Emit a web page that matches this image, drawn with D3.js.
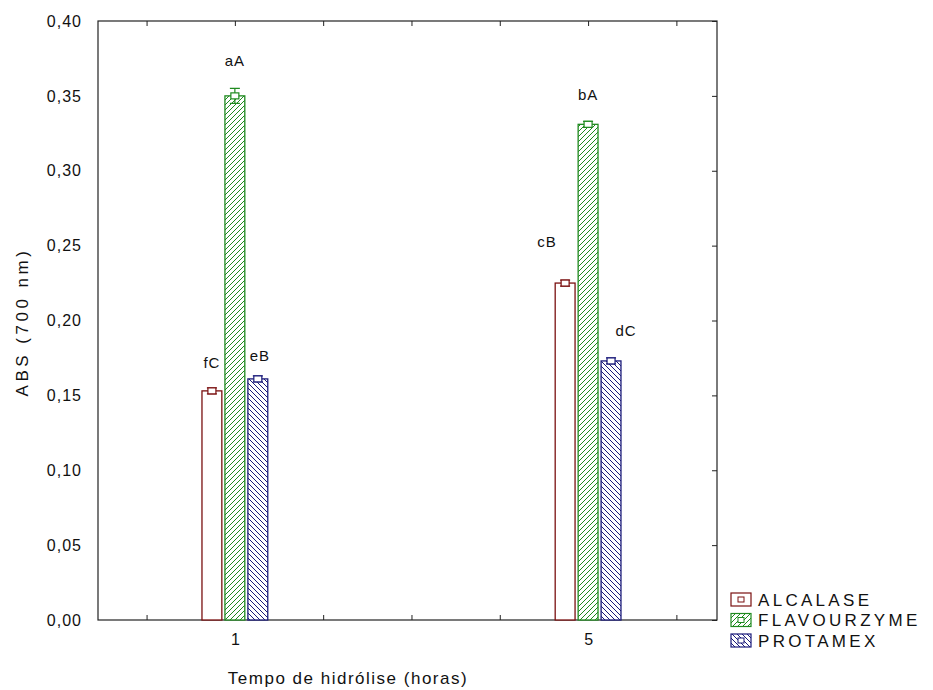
<!DOCTYPE html>
<html><head><meta charset="utf-8">
<script src="https://cdn.jsdelivr.net/npm/d3@7/dist/d3.min.js"></script>
<style>body{margin:0;background:#fff}svg{display:block}text{font-family:"Liberation Sans",Arial,sans-serif;fill:#111}</style>
</head><body>
<svg id="c" width="933" height="690"></svg>
<script>
const categories = [1, 5];
const seriesNames = ["ALCALASE", "FLAVOURZYME", "PROTAMEX"];
const alcalase = [0.153, 0.225];
const flavourzyme = [0.350, 0.331];
const protamex = [0.161, 0.173];
const alcalaseErr = [0.002, 0.002];
const flavourzymeErr = [0.005, 0.002];
const protamexErr = [0.002, 0.002];
const alcalaseLetters = ["fC", "cB"];
const flavourzymeLetters = ["aA", "bA"];
const protamexLetters = ["eB", "dC"];
const yTicks = [0, 0.05, 0.10, 0.15, 0.20, 0.25, 0.30, 0.35, 0.40];
const xTickVals = [0, 1, 2, 3, 4, 5, 6];
const xLabel = "Tempo de hidrólise (horas)";
const yLabel = "ABS (700 nm)";

const colors = ["#7a1010", "#1f8a1f", "#1a1a7a"];
const series = [
  {name: seriesNames[0], v: alcalase, e: alcalaseErr, lab: alcalaseLetters, off: -0.26, pat: null},
  {name: seriesNames[1], v: flavourzyme, e: flavourzymeErr, lab: flavourzymeLetters, off: 0, pat: "pf"},
  {name: seriesNames[2], v: protamex, e: protamexErr, lab: protamexLetters, off: 0.26, pat: "pp"}
];

const L = 98, R = 717, T = 21, B = 620;
const svg = d3.select("#c");
const x = d3.scaleLinear().domain([-0.55, 6.46]).range([L, R]);
const y = d3.scaleLinear().domain([0, 0.40]).range([B, T]);
const bw = x(0.225) - x(0);

const defs = svg.append("defs");
function hatch(id, color, dir) {
  const p = defs.append("pattern").attr("id", id).attr("patternUnits", "userSpaceOnUse")
    .attr("width", 5).attr("height", 5);
  p.append("rect").attr("width", 5).attr("height", 5).attr("fill", "#fff");
  const d = dir > 0 ? "M-1,6 L6,-1 M-1,1 L1,-1 M4,6 L6,4" : "M-1,-1 L6,6 M4,-1 L6,1 M-1,4 L1,6";
  p.append("path").attr("d", d).attr("stroke", color).attr("stroke-width", 1);
}
hatch("pf", colors[1], 1);
hatch("pp", colors[2], -1);

svg.append("rect").attr("x", L).attr("y", T).attr("width", R - L).attr("height", B - T)
  .attr("fill", "none").attr("stroke", "#222").attr("stroke-width", 1.2);

const ya = svg.append("g").attr("transform", `translate(${L},0)`)
  .call(d3.axisLeft(y).tickValues(yTicks).tickSize(0).tickPadding(16)
    .tickFormat(d => d3.format(".2f")(d).replace(".", ",")));
ya.select(".domain").remove();
ya.selectAll("text").attr("font-size", 16).style("font-family", "Liberation Sans, Arial")
  .style("letter-spacing", "1px").attr("fill", "#222");
const yr = svg.append("g").attr("transform", `translate(${R},0)`)
  .call(d3.axisRight(y).tickValues(yTicks).tickSize(-5).tickFormat(""));
yr.select(".domain").remove();
yr.selectAll("line").attr("stroke", "#222");
const xb = svg.append("g").attr("transform", `translate(0,${B})`)
  .call(d3.axisBottom(x).tickValues(xTickVals).tickSize(-5).tickPadding(14)
    .tickFormat(d => categories.includes(d) ? String(d) : ""));
xb.select(".domain").remove();
xb.selectAll("line").attr("stroke", "#222");
xb.selectAll("text").attr("font-size", 16).style("font-family", "Liberation Sans, Arial").attr("fill", "#222");
const xt = svg.append("g").attr("transform", `translate(0,${T})`)
  .call(d3.axisTop(x).tickValues(xTickVals).tickSize(-5).tickFormat(""));
xt.select(".domain").remove();
xt.selectAll("line").attr("stroke", "#222");

const labelOffsets = [[[0, -20], [-18, -33]], [[0, -22], [0, -21]], [[2, -15], [15, -22]]];
series.forEach((s, si) => {
  const g = svg.append("g");
  categories.forEach((c, ci) => {
    const cx = x(c + s.off);
    const v = s.v[ci];
    g.append("rect").attr("x", cx - bw / 2).attr("y", y(v)).attr("width", bw).attr("height", B - y(v))
      .attr("fill", s.pat ? `url(#${s.pat})` : "#fff").attr("stroke", colors[si]).attr("stroke-width", 1.3);
    const e = s.e[ci];
    g.append("path").attr("d", `M${cx},${y(v + e)}V${y(v - e)}M${cx - 5},${y(v + e)}H${cx + 5}M${cx - 5},${y(v - e)}H${cx + 5}`)
      .attr("stroke", colors[si]).attr("stroke-width", 1.2).attr("fill", "none");
    g.append("rect").attr("x", cx - 4).attr("y", y(v) - 3).attr("width", 8).attr("height", 6)
      .attr("fill", "#fff").attr("stroke", colors[si]).attr("stroke-width", 1.2);
    const [dx, dy] = labelOffsets[si][ci];
    svg.append("text").attr("x", cx + dx).attr("y", y(v + e) + dy).attr("text-anchor", "middle")
      .attr("font-size", 15).style("letter-spacing", "1px").text(s.lab[ci]);
  });
});

svg.append("text").attr("x", 348).attr("y", 684).attr("text-anchor", "middle").attr("font-size", 17)
  .style("letter-spacing", "1.5px").attr("fill", "#222").text(xLabel);
svg.append("text").attr("transform", "translate(28,322) rotate(-90)").attr("text-anchor", "middle")
  .attr("font-size", 17).style("letter-spacing", "3.5px").attr("fill", "#222").text(yLabel);

const lg = svg.append("g").attr("transform", "translate(731,593)");
series.forEach((s, i) => {
  const gy = i * 20.5;
  lg.append("rect").attr("x", 0).attr("y", gy).attr("width", 20).attr("height", 13)
    .attr("fill", s.pat ? `url(#${s.pat})` : "#fff").attr("stroke", colors[i]).attr("stroke-width", 1.2);
  lg.append("rect").attr("x", 7).attr("y", gy + 4).attr("width", 6).attr("height", 5)
    .attr("fill", "#fff").attr("stroke", colors[i]).attr("stroke-width", 1);
  lg.append("text").attr("x", 27).attr("y", gy + 12.5).attr("font-size", 17)
    .style("letter-spacing", "3.3px").attr("fill", "#222").text(s.name);
});
</script>
</body></html>
